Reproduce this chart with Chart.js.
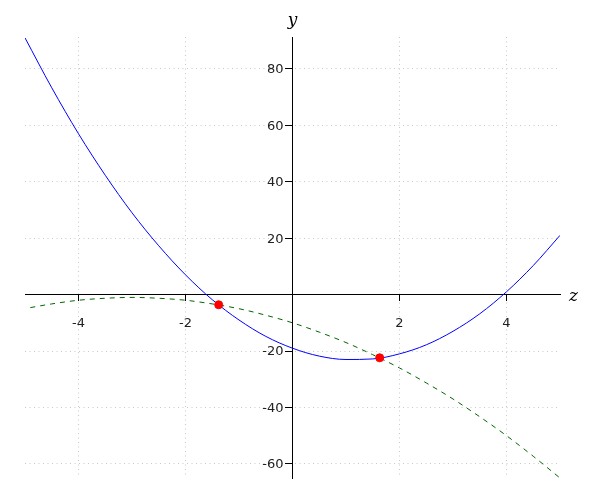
<!DOCTYPE html>
<html>
<head>
<meta charset="utf-8">
<script src="https://cdn.jsdelivr.net/npm/chart.js@4/dist/chart.umd.min.js"></script>
<style>
  html, body { margin: 0; padding: 0; background: #fff; }
  #wrap { width: 600px; height: 500px; }
</style>
</head>
<body>
<div id="wrap"><canvas id="plot" width="600" height="500"></canvas></div>
<script>
// values
var blueZ = [-5, -4.5, -4, -3.5, -3, -2.5, -2, -1.5, -1, -0.5, 0, 0.5, 1, 1.5, 2, 2.5, 3, 3.5, 4, 4.5, 5];
var blueY = [91, 73.3, 57, 42.3, 29, 17.3, 7, -1.8, -9, -14.8, -19, -21.8, -23, -22.8, -21, -17.8, -13, -6.8, 1, 10.3, 21];
var greenZ = [-4.9, -4.5, -4, -3.5, -3, -2.5, -2, -1.5, -1, -0.5, 0, 0.5, 1, 1.5, 2, 2.5, 3, 3.5, 4, 4.5, 5];
var greenY = [-4.6, -3.3, -2, -1.3, -1, -1.3, -2, -3.3, -5, -7.3, -10, -13.3, -17, -21.3, -26, -31.3, -37, -43.3, -50, -57.3, -65];
var dotZ = [-1.38, 1.63];
var dotY = [-3.6, -22.4];

var xTicks = [-4, -2, 2, 4];
var yTicks = [-60, -40, -20, 20, 40, 60, 80];

function pts(xs, ys) {
    return xs.map(function (x, i) { return {x: x, y: ys[i]}; });
}

var tickFont = {family: '"DejaVu Sans"', size: 13};

// axis names and the y tick labels (chart.js puts centred y labels on top of the axis)
var axisLabels = {
    id: 'axisLabels',
    afterDraw: function (chart) {
        var ctx = chart.ctx;
        var xs = chart.scales.x, ys = chart.scales.y;
        var x0 = xs.getPixelForValue(0);
        ctx.save();
        ctx.fillStyle = '#222';
        ctx.font = tickFont.size + 'px ' + tickFont.family;
        ctx.textAlign = 'right';
        ctx.textBaseline = 'middle';
        yTicks.forEach(function (v) {
            ctx.fillText(String(v), x0 - 9, ys.getPixelForValue(v) + 1);
        });
        ctx.fillStyle = '#000';
        ctx.font = 'italic 17px "DejaVu Serif"';
        ctx.textAlign = 'center';
        ctx.textBaseline = 'alphabetic';
        ctx.fillText('y', x0, 25);
        ctx.textAlign = 'left';
        ctx.fillText('z', chart.chartArea.right + 9, ys.getPixelForValue(0) + 6);
        ctx.restore();
    }
};

new Chart(document.getElementById('plot'), {
    type: 'scatter',
    data: {
        datasets: [{
            data: pts(dotZ, dotY),
            backgroundColor: '#ff0000',
            borderColor: '#ff0000',
            pointRadius: 4,
            showLine: false
        }, {
            data: pts(blueZ, blueY),
            borderColor: '#0000ff',
            borderWidth: 1,
            pointRadius: 0,
            showLine: true,
            cubicInterpolationMode: 'monotone'
        }, {
            data: pts(greenZ, greenY),
            borderColor: '#006400',
            borderWidth: 1,
            borderDash: [5, 5],
            pointRadius: 0,
            showLine: true,
            cubicInterpolationMode: 'monotone'
        }]
    },
    options: {
        responsive: false,
        animation: false,
        layout: {padding: {left: 25, right: 40, top: 37, bottom: 22}},
        plugins: {legend: {display: false}, tooltip: {enabled: false}},
        scales: {
            x: {
                type: 'linear',
                min: -5,
                max: 5,
                position: {y: 0},
                afterBuildTicks: function (s) {
                    s.ticks = xTicks.map(function (v) { return {value: v}; });
                },
                ticks: {color: '#222', font: tickFont, padding: 15},
                grid: {color: '#c8c8c8', tickColor: '#000', tickLength: 6},
                border: {color: '#000', width: 1, dash: [1, 3.5]}
            },
            y: {
                type: 'linear',
                min: -65,
                max: 91.3,
                position: {x: 0},
                afterBuildTicks: function (s) {
                    s.ticks = yTicks.map(function (v) { return {value: v}; });
                },
                ticks: {display: false},
                grid: {color: '#c8c8c8', tickColor: '#000', tickLength: 7},
                border: {color: '#000', width: 1, dash: [1, 3.5]}
            }
        }
    },
    plugins: [axisLabels]
});
</script>
</body>
</html>
